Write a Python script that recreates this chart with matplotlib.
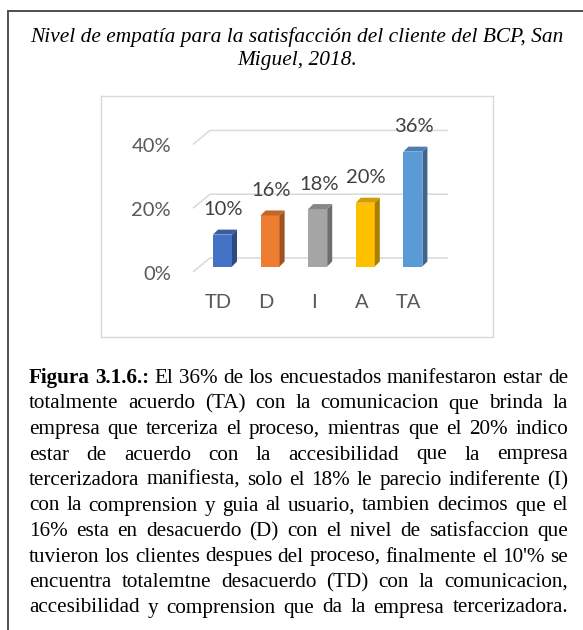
import matplotlib

matplotlib.use("Agg")
import matplotlib.pyplot as plt
import numpy as np
from matplotlib.colors import to_rgb
from matplotlib.patches import Polygon

CATEGORIES = ["TD", "D", "I", "A", "TA"]
VALUES = [10, 16, 18, 20, 36]
Y_TICKS = [0, 20, 40]
BAR_COLORS = ["#4472C4", "#ED7D31", "#A5A5A5", "#FFC000", "#5B9BD5"]

TITLE_LINES = [
    "Nivel de empatía para la satisfacción del cliente del BCP, San",
    "Miguel, 2018.",
]
CAPTION_BOLD = "Figura 3.1.6.:"
CAPTION_LINES = [
    "Figura 3.1.6.: El 36% de los encuestados manifestaron estar de",
    "totalmente acuerdo (TA) con la comunicacion que brinda la",
    "empresa que terceriza el proceso, mientras que el 20% indico",
    "estar de acuerdo con la accesibilidad que la empresa",
    "tercerizadora manifiesta, solo el 18% le parecio indiferente (I)",
    "con la comprension y guia al usuario, tambien decimos que el",
    "16% esta en desacuerdo (D) con el nivel de satisfaccion que",
    "tuvieron los clientes despues del proceso, finalmente el 10'% se",
    "encuentra totalemtne desacuerdo (TD) con la comunicacion,",
    "accesibilidad y comprension que da la empresa tercerizadora.",
]

W, H = 583, 630
INK = "#000000"
AXIS_INK = "#595959"
LABEL_INK = "#404040"
GRID = "#D9D9D9"
FRAME = "#505050"
SERIF = "Liberation Serif"
SANS = "Lato"

# chart geometry in page pixels
BOX = (100.7, 96, 493, 337)  # left, top, right, bottom
PX_CAT, PX_PCT = 47.6, 3.19
X0_PX, Y0_PX = 222.5, 266.5  # first bar centre, bar base
BAR_W = 19 / PX_CAT
DEPTH_X, DEPTH_Y = 5 / PX_CAT, 5 / PX_PCT
WALL_X, FLOOR_X, GRID_END = (210 - X0_PX) / PX_CAT, (193 - X0_PX) / PX_CAT, (448 - X0_PX) / PX_CAT
WALL_DY, FLOOR_DY = 8.5 / PX_PCT, -5.5 / PX_PCT


def shade(color, k):
    return tuple(np.clip(np.array(to_rgb(color)) * k, 0, 1))


def draw_chart(fig):
    left, top, right, bottom = BOX
    ax = fig.add_axes([left / W, 1 - bottom / H, (right - left) / W, (bottom - top) / H])
    ax.set_xlim((left - X0_PX) / PX_CAT, (right - X0_PX) / PX_CAT)
    ax.set_ylim((Y0_PX - bottom) / PX_PCT, (Y0_PX - top) / PX_PCT)
    ax.set_xticks([])
    ax.set_yticks([])
    for spine in ax.spines.values():
        spine.set_color(GRID)
        spine.set_linewidth(1.0)

    for t in Y_TICKS:
        ax.plot([FLOOR_X, WALL_X, GRID_END], [t + FLOOR_DY, t + WALL_DY, t + WALL_DY],
                color=GRID, lw=1.1, zorder=1, solid_capstyle="butt")
        ax.annotate(f"{t}%", xy=(FLOOR_X, t + FLOOR_DY), xytext=(-22, -2), textcoords="offset pixels",
                    ha="right", va="center", fontsize=14.5, family=SANS, color=AXIS_INK)

    for i, (cat, v, c) in enumerate(zip(CATEGORIES, VALUES, BAR_COLORS)):
        x0, x1 = i - BAR_W / 2, i + BAR_W / 2
        front = Polygon([(x0, 0), (x1, 0), (x1, v), (x0, v)], closed=True, fc=c, ec="none", zorder=3)
        side = Polygon([(x1, 0), (x1 + DEPTH_X, DEPTH_Y), (x1 + DEPTH_X, v + DEPTH_Y), (x1, v)],
                       closed=True, fc=shade(c, 0.66), ec="none", zorder=3)
        top = Polygon([(x0, v), (x0 + DEPTH_X, v + DEPTH_Y), (x1 + DEPTH_X, v + DEPTH_Y), (x1, v)],
                      closed=True, fc=shade(c, 0.82), ec="none", zorder=3)
        for p in (front, side, top):
            ax.add_patch(p)
        ax.annotate(f"{v}%", xy=(i, v), xytext=(1, 25), textcoords="offset pixels",
                    ha="center", va="center", fontsize=14.5, family=SANS, color=LABEL_INK)
        ax.annotate(cat, xy=(i, 0), xytext=(-4, -35.5), textcoords="offset pixels",
                    ha="center", va="center", fontsize=14.5, family=SANS, color=AXIS_INK)
    return ax


def fit_size(page, renderer, lines, width, **kw):
    probe = 14.0
    widths = []
    for line in lines:
        t = page.text(0, 0, line, fontsize=probe, **kw)
        widths.append(t.get_window_extent(renderer).width)
        t.remove()
    return probe * width / max(widths)


def justify(page, renderer, line, baseline, x_left, x_right, size, bold_words=0):
    words = line.split()
    texts = []
    for k, wd in enumerate(words):
        weight = "bold" if k < bold_words else "normal"
        texts.append(page.text(0, baseline, wd, fontsize=size, family=SERIF, weight=weight,
                               color=INK, va="baseline", ha="left"))
    widths = [t.get_window_extent(renderer).width for t in texts]
    gap = (x_right - x_left - sum(widths)) / max(len(words) - 1, 1)
    x = x_left
    for t, w in zip(texts, widths):
        t.set_x(x)
        x += w + gap


fig = plt.figure(figsize=(W / 100, H / 100), dpi=100, facecolor="white")
page = fig.add_axes([0, 0, 1, 1])
page.set_xlim(0, W)
page.set_ylim(H, 0)
page.axis("off")
renderer = fig.canvas.get_renderer()

# outer frame (left and top edges only)
page.plot([8, 8, W], [H, 10.5, 10.5], color=FRAME, lw=1.4, solid_joinstyle="miter")

title_size = fit_size(page, renderer, TITLE_LINES[:1], 532, family=SERIF, style="italic")
for line, y in zip(TITLE_LINES, [42, 65]):
    page.text(297, y, line, fontsize=title_size, family=SERIF, style="italic", color=INK,
              ha="center", va="baseline")

cap_size = fit_size(page, renderer, CAPTION_LINES, 539, family=SERIF)
n_bold = len(CAPTION_BOLD.split())
for k, line in enumerate(CAPTION_LINES):
    justify(page, renderer, line, 383 + 25.5 * k, 29, 568, cap_size, bold_words=n_bold if k == 0 else 0)

draw_chart(fig)

fig.savefig("out.png", dpi=100, facecolor="white")
